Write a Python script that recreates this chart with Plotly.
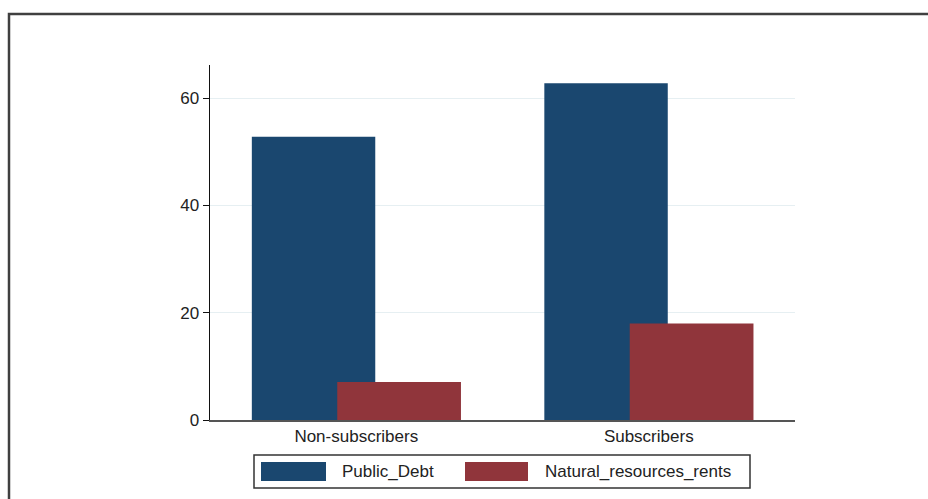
import plotly.graph_objects as go

categories = ["Non-subscribers", "Subscribers"]
series_names = ["Public_Debt", "Natural_resources_rents"]
public_debt = [52.8, 62.8]
natural_resources_rents = [7.1, 18.0]
y_ticks = [0, 20, 40, 60]

colors = ["#1a476f", "#90353b"]
W, H = 928, 499
L, R, T, B = 210, 795, 65, 420  # plot area in pixels


def px(x):
    return (x - L) / (R - L)


def py(y):
    return (B - y) / (B - T)


fig = go.Figure()
fig.add_trace(go.Bar(x=categories, y=public_debt, name=series_names[0],
                     marker=dict(color=colors[0], line=dict(width=0)),
                     width=0.422, offset=-0.357, showlegend=False))
fig.add_trace(go.Bar(x=categories, y=natural_resources_rents, name=series_names[1],
                     marker=dict(color=colors[1], line=dict(width=0)),
                     width=0.423, offset=-0.065, showlegend=False))

font = dict(family="Liberation Sans, Arial, sans-serif", size=17, color="#222222")

fig.update_layout(
    width=W, height=H,
    margin=dict(l=L, r=W - R, t=T, b=H - B, pad=0),
    barmode="overlay",
    paper_bgcolor="white", plot_bgcolor="white",
    font=font,
    showlegend=False,
    xaxis=dict(type="category", range=[-0.5, 1.5], showline=True, linecolor="#555555",
               linewidth=2, ticks="", showgrid=False, tickfont=font, fixedrange=True),
    yaxis=dict(range=[0, 66.2], tickvals=y_ticks, showline=True, linecolor="#111111",
               linewidth=1.5, ticks="outside", ticklen=6, tickcolor="#111111",
               showgrid=True, gridcolor="#e6eff2", gridwidth=1, zeroline=False,
               tickfont=font, fixedrange=True),
)

shapes = []
# outer frame
shapes.append(dict(type="rect", xref="paper", yref="paper",
                   x0=px(9), x1=px(945), y0=py(14), y1=py(520),
                   line=dict(color="#404040", width=2.5), fillcolor="rgba(0,0,0,0)"))
# legend box
shapes.append(dict(type="rect", xref="paper", yref="paper",
                   x0=px(254), x1=px(750), y0=py(455), y1=py(488),
                   line=dict(color="#333333", width=1.5), fillcolor="white"))
# legend swatches
swatch_x = [(261, 326), (465, 528)]
text_x = [340, 543]
annotations = []
for i, name in enumerate(series_names):
    x0, x1 = swatch_x[i]
    shapes.append(dict(type="rect", xref="paper", yref="paper",
                       x0=px(x0), x1=px(x1), y0=py(462), y1=py(481),
                       line=dict(width=0), fillcolor=colors[i]))
    annotations.append(dict(xref="paper", yref="paper", x=px(text_x[i]), y=py(471.5),
                            text=name, showarrow=False, xanchor="left", yanchor="middle",
                            font=font))

fig.update_layout(shapes=shapes, annotations=annotations)
fig.write_html("out.html",
               config={"displayModeBar": False, "staticPlot": True},
               post_script="document.body.style.margin='0';"
                           "document.documentElement.style.overflow='hidden';"
                           "document.body.style.overflow='hidden';")
